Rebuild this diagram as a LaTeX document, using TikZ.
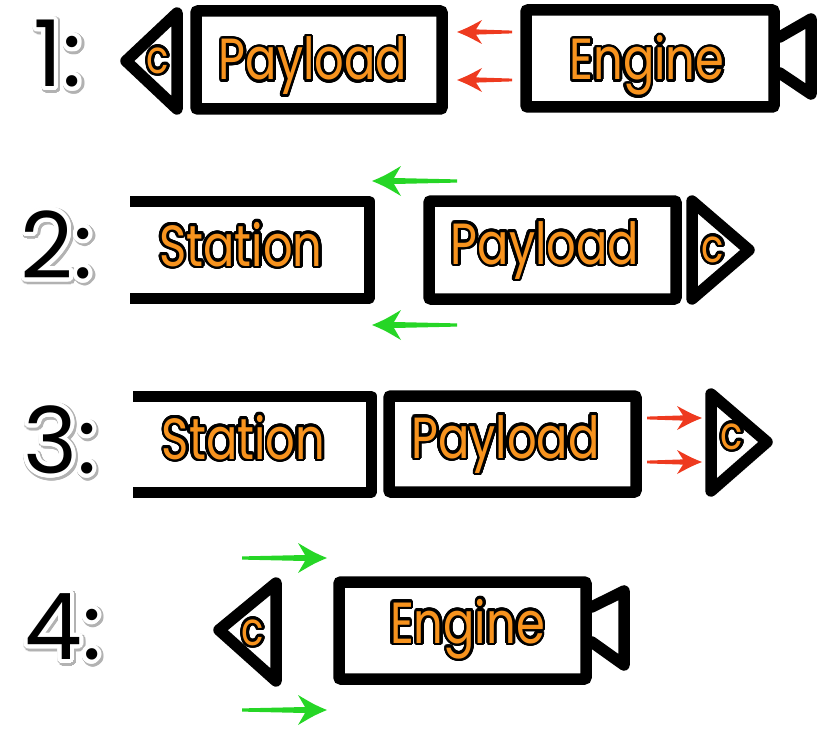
\documentclass[tikz,border=0pt]{standalone}
\usepackage{fontspec}
\setmainfont{Poppins}
\newfontfamily\lblfont[FakeStretch=0.8]{Poppins}
\newfontfamily\numfont{Poppins}
\usepackage{contour}
\contournumber{32}
\usetikzlibrary{arrows.meta}
\definecolor{txtorange}{HTML}{F7931E}
\definecolor{arrred}{HTML}{EE3A1F}
\definecolor{arrgreen}{HTML}{26D626}
\newcommand\olbl[1]{\contourlength{2.6pt}\contour{black}{#1}}
\newcommand\numsh[1]{\contourlength{5pt}\contour{black!30}{#1}}
\newcommand\numtx[1]{\contourlength{4pt}\contour{white}{#1}}
\tikzset{
  hull/.style={draw=black, line width=11.5pt, line join=round, line cap=round},
  openbox/.style={draw=black, line width=11pt, line join=round, line cap=butt},
  boxhull/.style={draw=black, line width=11.5pt, rounded corners=2pt, inner sep=0pt},
  lbl/.style={font=\lblfont\fontsize{58}{58}\selectfont, text=txtorange, inner sep=0pt, anchor=base},
  clbl/.style={font=\lblfont\fontsize{46}{46}\selectfont, text=txtorange, inner sep=0pt},
  numlbl/.style={font=\numfont\fontsize{92}{92}\selectfont, text=black, inner sep=0pt},
  numshadow/.style={font=\numfont\fontsize{92}{92}\selectfont, text=black!30, inner sep=0pt},
  redtip/.pic={\fill[pic actions] (0,0) .. controls (-10,-4) .. (-25,-12) -- (-19,-2.6) -- (-55,-1.4) -- (-55,1.4) -- (-19,2.6) -- (-25,12) .. controls (-10,4) .. cycle;},
  greentip/.pic={\fill[pic actions] (0,0) .. controls (-12,-5) .. (-29,-15) -- (-22,-3) -- (-85,-1.6) -- (-85,1.6) -- (-22,3) -- (-29,15) .. controls (-12,5) .. cycle;},
  redarr/.style={fill=arrred},
  greenarr/.style={fill=arrgreen}
}
\begin{document}
\begin{tikzpicture}[x=1pt,y=-1pt]
\useasboundingbox (0,0) rectangle (832,741);

% ---------------- Row 1 ----------------
\node[numshadow] (n1s) at (59.5,58) {\numsh{1:}};
\node[numlbl] (n1) at (58,56) {\numtx{1:}};
\draw[hull] (177,13) -- (177,109) -- (126,61) -- cycle;
\node[boxhull, minimum width=246pt, minimum height=98pt] (p1) at (319,60) {};
\node[boxhull, minimum width=248pt, minimum height=97pt] (e1) at (650,58.5) {};
\draw[hull] (e1.east |- 0,37) -- (811,19) -- (811,94) -- (e1.east |- 0,73);
\node[lbl] (p1t) at (313,80) {\olbl{Payload}};
\node[lbl] (e1t) at (647,80) {\olbl{Engine}};
\node[clbl] (c1) at (158,62) {\olbl{c}};
\coordinate (r1a) at (457,32);
\coordinate (r1b) at (457,80);
\pic[redarr, rotate=180] at (r1a) {redtip};
\pic[redarr, rotate=180] at (r1b) {redtip};

% ---------------- Row 2 ----------------
\node[numshadow] (n2s) at (58.5,249) {\numsh{2:}};
\node[numlbl] (n2) at (57,247) {\numtx{2:}};
\draw[openbox] (130,201) -- (369,201) -- (369,298.5) -- (130,298.5);
\node[boxhull, minimum width=247pt, minimum height=98pt] (p2) at (552.5,250) {};
\draw[hull] (692,201) -- (692,299) -- (749,250) -- cycle;
\node[lbl] (s2t) at (241,266) {\olbl{Station}};
\node[lbl] (p2t) at (545,264) {\olbl{Payload}};
\node[clbl] (c2) at (713,251) {\olbl{c}};
\coordinate (g2a) at (372,181);
\coordinate (g2b) at (372,325);
\pic[greenarr, rotate=180] at (g2a) {greentip};
\pic[greenarr, rotate=180] at (g2b) {greentip};

% ---------------- Row 3 ----------------
\node[numshadow] (n3s) at (61.5,444) {\numsh{3:}};
\node[numlbl] (n3) at (60,442) {\numtx{3:}};
\draw[openbox] (133,396) -- (371,396) -- (371,492.5) -- (133,492.5);
\node[boxhull, minimum width=247pt, minimum height=96pt] (p3) at (512.5,444) {};
\draw[hull] (711,394) -- (711,491) -- (767,442) -- cycle;
\node[lbl] (s3t) at (243.5,459) {\olbl{Station}};
\node[lbl] (p3t) at (505.5,458) {\olbl{Payload}};
\node[clbl] (c3) at (732,438) {\olbl{c}};
\coordinate (r3a) at (702,418);
\coordinate (r3b) at (702,462);
\pic[redarr] at (r3a) {redtip};
\pic[redarr] at (r3b) {redtip};

% ---------------- Row 4 ----------------
\node[numshadow] (n4s) at (64.5,631) {\numsh{4:}};
\node[numlbl] (n4) at (63,629) {\numtx{4:}};
\draw[hull] (276,583) -- (276,681) -- (219,630) -- cycle;
\node[boxhull, minimum width=247pt, minimum height=97pt] (e4) at (462.5,630.5) {};
\draw[hull] (e4.east |- 0,607) -- (624,591) -- (624,665) -- (e4.east |- 0,642);
\node[lbl] (e4t) at (467.5,643) {\olbl{Engine}};
\node[clbl] (c4) at (253,634) {\olbl{c}};
\coordinate (g4a) at (327,558);
\coordinate (g4b) at (327,710);
\pic[greenarr] at (g4a) {greentip};
\pic[greenarr] at (g4b) {greentip};
\end{tikzpicture}
\end{document}
